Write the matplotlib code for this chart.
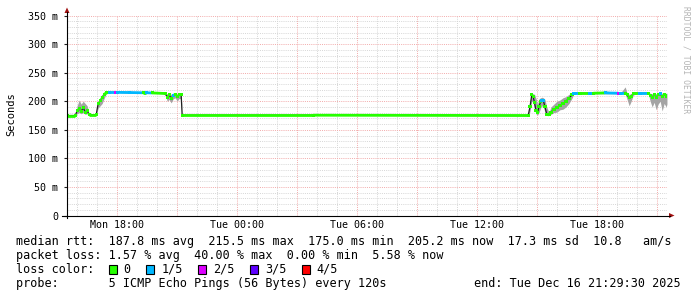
import numpy as np
import matplotlib
matplotlib.use('Agg')
import matplotlib.pyplot as plt
from matplotlib.collections import LineCollection
from matplotlib.patches import Rectangle, Polygon

# ---------------- data (time in hours since Mon 00:00, values in ms) ----------------
t_hours = [15.49, 15.90, 16.00, 16.10, 16.20, 16.30, 16.40, 16.50, 16.60, 16.95,
           17.05, 17.15, 17.25, 17.35, 17.45, 17.60, 17.93, 18.00, 18.60, 19.30,
           19.45, 19.75, 20.40, 20.50, 20.60, 20.70, 20.80, 20.90, 21.00, 21.10,
           21.20, 21.25, 27.80, 38.55, 38.64, 38.73, 38.80, 38.87, 38.94, 39.02,
           39.09, 39.17, 39.24, 39.31, 39.39, 39.48, 39.59, 39.69, 39.84, 39.99,
           40.14, 40.29, 40.44, 40.59, 40.74, 40.84, 41.14, 41.64, 41.81, 42.40,
           43.06, 43.18, 43.40, 43.50, 43.60, 43.70, 43.80, 43.90, 44.14, 44.56,
           44.65, 44.75, 44.85, 44.95, 45.05, 45.15, 45.25, 45.35, 45.45, 45.49]
median = [175, 175, 183, 187, 182, 189, 181, 184, 176, 176,
          196, 201, 206, 212, 214.5, 215.5, 215.5, 215.5, 215.2, 214.8,
          214.8, 214.5, 213.5, 207, 211, 205, 210, 212, 208, 212,
          211, 175.5, 175.5, 175, 190, 211, 208, 197, 184, 180,
          190, 199, 202, 201, 190, 177, 176, 181, 186, 189,
          193, 196, 200, 205, 211, 214, 214, 214, 214, 214.5,
          214, 214, 214, 211, 206, 209, 213, 214, 214, 214,
          210, 206, 212, 207, 211, 213, 208, 212, 209, 210]
smoke_lo = [174.5, 174.5, 178, 180, 178, 180, 177, 178, 175, 175,
            188, 192, 196, 205, 213, 215, 215, 215, 214.5, 214,
            214, 214, 213, 200, 203, 197, 204, 206, 200, 205,
            204, 175, 175, 174.5, 182, 200, 198, 185, 178, 176,
            180, 188, 192, 190, 181, 175, 175, 177, 180, 181,
            185, 186, 190, 196, 205, 213, 213, 213, 213, 213,
            213, 213, 213, 203, 192, 200, 210, 213, 213, 213,
            200, 190, 198, 185, 195, 200, 183, 196, 190, 195]
smoke_hi = [175.5, 175.5, 192, 202, 195, 200, 196, 192, 178, 177,
            200, 207, 212, 215, 215.5, 216, 216, 216, 216, 215.5,
            215.5, 215, 214.5, 213, 214, 212, 213, 214, 213, 214,
            214, 176, 177, 176, 200, 214, 213, 212, 205, 195,
            204, 206, 207, 206, 203, 190, 180, 190, 195, 200,
            202, 206, 208, 212, 214, 215, 215, 215, 215, 218,
            215, 215, 225, 214, 212, 213, 214, 215, 215, 215,
            214, 213, 214, 213, 214, 214, 214, 214, 214, 214]
loss = [0, 0, 0, 0, 0, 0, 0, 0, 0, 0,
        0, 0, 0, 0, 0, 1, 2, 1, 1, 0,
        1, 0, 0, 0, 0, 0, 1, 0, 0, 0,
        0, 0, 0, 0, 0, 0, 0, 0, 0, 0,
        0, 0, 1, 1, 0, 0, 0, 0, 0, 0,
        0, 0, 0, 0, 0, 1, 0, 1, 0, 1,
        2, 1, 0, 0, 0, 0, 0, 0, 1, 0,
        0, 0, 0, 0, 0, 1, 0, 0, 0, 0]

loss_labels = ['0', '1/5', '2/5', '3/5', '4/5']
loss_colors = ['#26ff00', '#00b8ff', '#dd00ff', '#5e00ff', '#ff0000']

y_ticks = [0, 50, 100, 150, 200, 250, 300, 350]
y_ticklabels = ['0', '50 m', '100 m', '150 m', '200 m', '250 m', '300 m', '350 m']
x_ticks = [18, 24, 30, 36, 42]
x_ticklabels = ['Mon 18:00', 'Tue 00:00', 'Tue 06:00', 'Tue 12:00', 'Tue 18:00']

T_START = 15 + 29.5 / 60
T_END = T_START + 30

legend_lines = [
    'median rtt:  187.8 ms avg  215.5 ms max  175.0 ms min  205.2 ms now  17.3 ms sd  10.8   am/s',
    'packet loss: 1.57 % avg  40.00 % max  0.00 % min  5.58 % now',
]
probe_text = 'probe:       5 ICMP Echo Pings (56 Bytes) every 120s'
end_text = 'end: Tue Dec 16 21:29:30 2025'

# ---------------- figure ----------------
W, H = 697, 297
fig = plt.figure(figsize=(W / 100, H / 100), dpi=100)
fig.patch.set_facecolor('white')
X0, X1, Y0, Y1 = 67, 667, 15.5, 215.5
ax = fig.add_axes([X0 / W, 1 - Y1 / H, (X1 - X0) / W, (Y1 - Y0) / H])
ax.set_facecolor('white')
ax.set_xlim(T_START, T_END)
ax.set_ylim(0, 350)
for s in ax.spines.values():
    s.set_visible(False)

MONO = 'DejaVu Sans Mono'
dot = (0, (1, 1.2))
# grid
for h in range(16, 46):
    if h % 3 == 0:
        ax.axvline(h, color='#f2aaaa', lw=0.7, ls=dot, zorder=1)
    else:
        ax.axvline(h, color='#d6d6d6', lw=0.7, ls=dot, zorder=0.5)
for v in range(10, 351, 10):
    if v % 50 == 0:
        ax.axhline(v, color='#f2aaaa', lw=0.7, ls=dot, zorder=1)
    else:
        ax.axhline(v, color='#d6d6d6', lw=0.7, ls=dot, zorder=0.5)

t = np.array(t_hours)
m = np.array(median)
# smoke
ax.fill_between(t, smoke_lo, smoke_hi, color='#a4a4a4', lw=0, zorder=2)
# dark median line
ax.plot(t, m, color='#202020', lw=0.9, zorder=3)
# colored median segments (flat parts) and points
segs, cols = [], []
for i in range(len(t) - 1):
    if abs(m[i + 1] - m[i]) <= 2.5:
        segs.append([(t[i], m[i]), (t[i + 1], m[i + 1])])
        cols.append(loss_colors[loss[i]])
ax.add_collection(LineCollection(segs, colors=cols, linewidths=2.0, zorder=4, capstyle='butt'))
ax.scatter(t, m, c=[loss_colors[l] for l in loss], s=5, marker='s', lw=0, zorder=5)

ax.set_yticks(y_ticks)
ax.set_yticklabels(y_ticklabels, fontfamily=MONO, fontsize=7.2)
ax.set_xticks(x_ticks)
ax.set_xticklabels(x_ticklabels, fontfamily=MONO, fontsize=7.2)
ax.tick_params(axis='y', length=2, width=0.8, pad=4.5, color='#202020')
ax.tick_params(axis='x', length=0, pad=3)

# overlay in pixel coordinates
ov = fig.add_axes([0, 0, 1, 1], zorder=10)
ov.set_xlim(0, W)
ov.set_ylim(H, 0)
ov.axis('off')
ov.patch.set_alpha(0)
# axes lines and arrows
ov.plot([62, 670], [215.5, 215.5], color='black', lw=0.8)
ov.plot([67, 67], [218, 12], color='black', lw=0.8)
ov.add_patch(Polygon([[64.5, 13], [69.5, 13], [67, 7.5]], closed=True, color='#a01010', lw=0))
ov.add_patch(Polygon([[669, 213], [669, 218], [674.5, 215.5]], closed=True, color='#a01010', lw=0))

ov.text(11, 114, 'Seconds', rotation=90, ha='center', va='center', fontfamily=MONO, fontsize=7.5)
ov.text(686, 60, 'RRDTOOL / TOBI OETIKER', rotation=270, ha='center', va='center',
        fontfamily=MONO, fontsize=5.8, color='#b4b4b4')

FS = 8.5
CW = 7.12
rows = [241.7, 255.7, 269.3, 283.3]
for y, line in zip(rows[:2], legend_lines):
    ov.text(16, y, line, ha='left', va='center', fontfamily=MONO, fontsize=FS)
ov.text(16, rows[2], 'loss color:', ha='left', va='center', fontfamily=MONO, fontsize=FS)
x = 16 + 13 * CW
for lab, col in zip(loss_labels, loss_colors):
    ov.add_patch(Rectangle((x, rows[2] - 4.2), 8, 8.4, facecolor=col, edgecolor='black', lw=0.8))
    ov.text(x + 15, rows[2], lab, ha='left', va='center', fontfamily=MONO, fontsize=FS)
    x = x + 15 + len(lab) * CW + 15.5
ov.text(16, rows[3], probe_text, ha='left', va='center', fontfamily=MONO, fontsize=FS)
ov.text(681, rows[3], end_text, ha='right', va='center', fontfamily=MONO, fontsize=FS)

fig.savefig('out.png', dpi=100, facecolor='white')
